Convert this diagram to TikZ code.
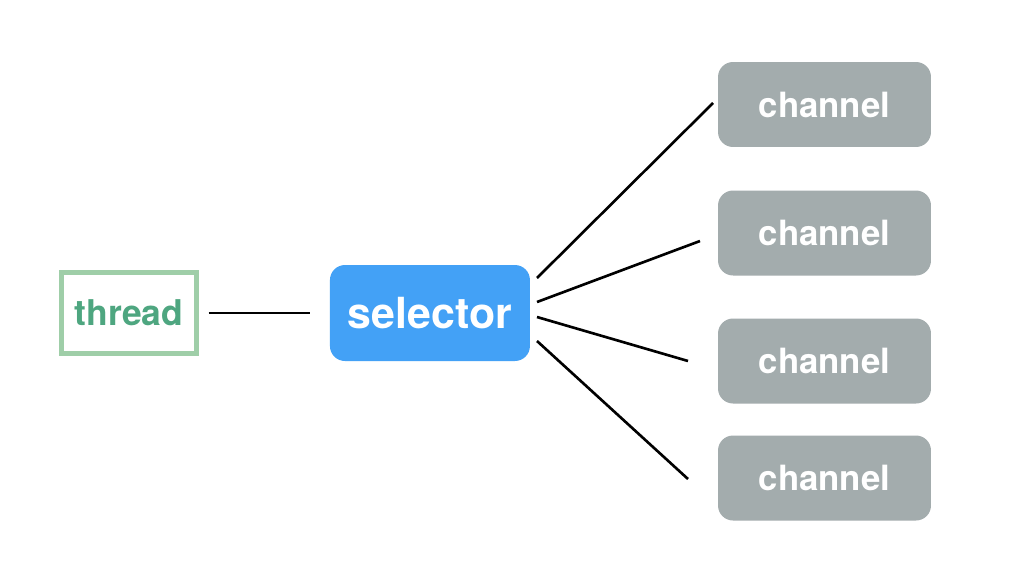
\documentclass[tikz,border=0pt]{standalone}
\usepackage{fontspec}
\setmainfont{TeX Gyre Heros}
\usepackage{tikz}
\usetikzlibrary{shapes,arrows,calc}
\definecolor{threadgreen}{HTML}{9FCEA8}
\definecolor{threadtext}{HTML}{4EA680}
\definecolor{selblue}{HTML}{43A1F6}
\definecolor{changray}{HTML}{A3ACAD}
\tikzstyle{link}=[line width=1.5pt,black]
\tikzstyle{channelbox}=[rounded corners=0.3cm,
                        fill=changray,
                        text=white,
                        minimum width=4.26cm,
                        minimum height=1.7cm,
                        font=\fontsize{19.8}{23}\selectfont\bfseries]

\begin{document}
\begin{tikzpicture}[x=0.02cm,y=-0.02cm]
    \useasboundingbox[fill=white] (0,0) rectangle (1020,569);
    \node[draw=threadgreen, line width=2.3pt, text=threadtext, minimum width=2.7cm, minimum height=1.62cm, font=\fontsize{20.2}{23}\selectfont\bfseries] (thread) at (129,313) {thread};
    \node[fill=selblue, text=white, rounded corners=0.3cm, minimum width=4cm, minimum height=1.92cm, node distance=6.02cm, right of=thread, font=\fontsize{24.4}{28}\selectfont\bfseries] (selector) {selector};
    \node[channelbox] (ch1) at (824.5,104.5) {channel};
    \node[channelbox] (ch2) at (824.5,233) {channel};
    \node[channelbox] (ch3) at (824.5,361) {channel};
    \node[channelbox] (ch4) at (824.5,478) {channel};
    % ends of the fan lines, they stop short of the boxes
    \coordinate (s1) at (537,278);
    \coordinate (s2) at (537,302);
    \coordinate (s3) at (537,317);
    \coordinate (s4) at (537,341);
    \coordinate (e1) at (713,103);
    \coordinate (e2) at (700,241);
    \coordinate (e3) at (688,361);
    \coordinate (e4) at (688,479);
    \path (thread.east) edge[link, shorten <=0.2cm, shorten >=0.4cm] (selector.west)
   (s1) edge[link] (e1)
   (s2) edge[link] (e2)
   (s3) edge[link] (e3)
   (s4) edge[link] (e4);

  \end{tikzpicture}
\end{document}
